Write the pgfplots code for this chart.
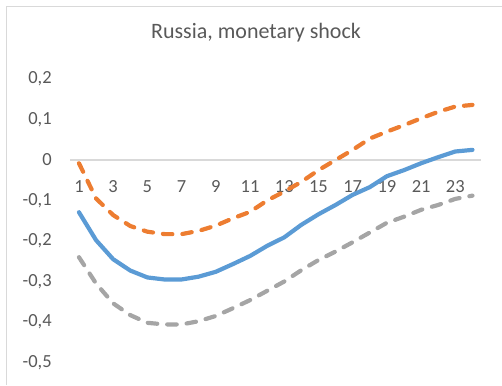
\documentclass[border=0pt]{standalone}
\usepackage{fontspec}
\setmainfont{Carlito}
\usepackage{pgfplots}
\pgfplotsset{compat=1.18}
\definecolor{exblue}{HTML}{5B9BD5}
\definecolor{exorange}{HTML}{ED7D31}
\definecolor{exgray}{HTML}{A5A5A5}
\definecolor{txtgray}{HTML}{595959}
\definecolor{framegray}{HTML}{D9D9D9}
\begin{document}
\begin{tikzpicture}
\useasboundingbox (0,0) rectangle (502pt,385pt);
\draw[framegray, line width=1pt] (6pt,0pt) -- (6pt,378pt) -- (502pt,378pt);
\begin{axis}[
  at={(70.4pt,22.5pt)}, anchor=south west,
  scale only axis, width=410.6pt, height=283.5pt,
  xmin=0.5, xmax=24.5, ymin=-0.5, ymax=0.2,
  axis x line=middle, axis y line=left,
  x axis line style={draw=framegray, line width=1.2pt, -},
  y axis line style={draw=none},
  major tick length=0pt,
  xtick={1,3,...,23},
  xticklabels={1,3,5,7,9,11,13,15,17,19,21,23},
  ytick={-0.5,-0.4,-0.3,-0.2,-0.1,0,0.1,0.2},
  yticklabels={{-0,5},{-0,4},{-0,3},{-0,2},{-0,1},{0},{0,1},{0,2}},
  xticklabel style={inner sep=0pt, anchor=north, yshift=-20pt, font=\fontsize{18.5}{21}\selectfont, text=txtgray},
  yticklabel style={inner sep=0pt, anchor=east, xshift=-18.5pt, font=\fontsize{18.5}{21}\selectfont, text=txtgray},
  title={Russia, monetary shock},
  title style={at={(axis description cs:0.452,1.141)}, anchor=center, inner sep=0pt, font=\fontsize{22}{26}\selectfont, text=txtgray},
  clip=false,
]
\addplot[exorange, line width=4.2pt, line cap=round, dash pattern=on 9.5pt off 10pt, sharp plot] coordinates {
(1,-0.008) (2,-0.095) (3,-0.136) (4,-0.163) (5,-0.177) (6,-0.183) (7,-0.183) (8,-0.175)
(9,-0.162) (10,-0.144) (11,-0.128) (12,-0.100) (13,-0.078) (14,-0.054) (15,-0.025) (16,0.000)
(17,0.025) (18,0.053) (19,0.070) (20,0.086) (21,0.103) (22,0.119) (23,0.132) (24,0.136)};
\addplot[exgray, line width=4.2pt, line cap=round, dash pattern=on 9.5pt off 10pt, sharp plot] coordinates {
(1,-0.240) (2,-0.305) (3,-0.354) (4,-0.383) (5,-0.402) (6,-0.406) (7,-0.406) (8,-0.398)
(9,-0.385) (10,-0.366) (11,-0.346) (12,-0.323) (13,-0.300) (14,-0.272) (15,-0.247) (16,-0.226)
(17,-0.203) (18,-0.179) (19,-0.155) (20,-0.140) (21,-0.123) (22,-0.111) (23,-0.096) (24,-0.088)};
\addplot[exblue, line width=4.2pt, line cap=round, line join=round, sharp plot] coordinates {
(1,-0.129) (2,-0.198) (3,-0.245) (4,-0.273) (5,-0.290) (6,-0.295) (7,-0.295) (8,-0.288)
(9,-0.276) (10,-0.257) (11,-0.237) (12,-0.212) (13,-0.191) (14,-0.160) (15,-0.134) (16,-0.111)
(17,-0.086) (18,-0.067) (19,-0.040) (20,-0.025) (21,-0.008) (22,0.007) (23,0.021) (24,0.025)};
\end{axis}
\end{tikzpicture}
\end{document}
